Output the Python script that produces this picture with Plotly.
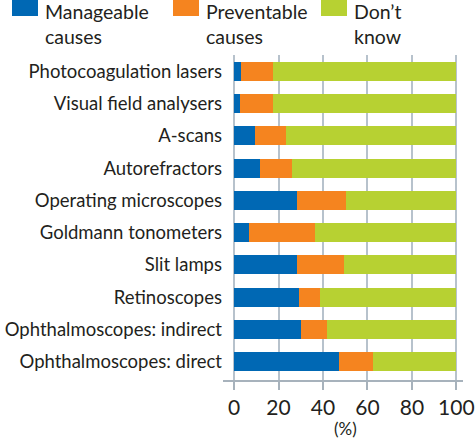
import plotly.graph_objects as go

categories = ["Ophthalmoscopes: direct", "Ophthalmoscopes: indirect", "Retinoscopes",
              "Slit lamps", "Goldmann tonometers", "Operating microscopes",
              "Autorefractors", "A-scans", "Visual field analysers", "Photocoagulation lasers"]
manageable = [47.4, 29.9, 29.4, 28.1, 6.9, 28.5, 11.5, 9.4, 2.7, 3.1]
preventable = [14.9, 11.8, 9.2, 21.2, 29.3, 22.0, 14.5, 13.8, 14.6, 14.2]
dont_know = [round(100 - m - p, 1) for m, p in zip(manageable, preventable)]

series_names = ["Manageable<br>causes", "Preventable<br>causes", "Don’t<br>know"]
colors = ["#0068b4", "#f5841f", "#b7d132"]
x_ticks = [0, 20, 40, 60, 80, 100]

W, H = 475, 438
L, R, T, B = 223, 12, 55, 58
FONT = "Lato"
TXT = "#231f20"

fig = go.Figure()
for name, vals, col in zip(series_names, [manageable, preventable, dont_know], colors):
    fig.add_trace(go.Bar(y=categories, x=vals, orientation="h", name=name,
                         marker=dict(color=col, line=dict(width=0)), showlegend=False))

# manual legend (paper coords)
pw, ph = W - L - R, H - T - B
def px(x):
    return (x - L) / pw
def py(y):
    return (H - B - y) / ph

leg_x = [12, 173, 321]
for lx, name, col in zip(leg_x, series_names, colors):
    fig.add_shape(type="rect", xref="paper", yref="paper",
                  x0=px(lx), x1=px(lx + 26), y0=py(16), y1=py(0),
                  fillcolor=col, line=dict(width=0))
    fig.add_annotation(xref="paper", yref="paper", x=px(lx + 31), y=py(-2),
                       xanchor="left", yanchor="top", align="left", showarrow=False,
                       text=name, font=dict(family=FONT, size=19.5, color=TXT))

fig.add_annotation(xref="paper", yref="paper", x=px(345), y=py(428),
                   xanchor="center", yanchor="middle", showarrow=False,
                   text="(%)", font=dict(family=FONT, size=17, color=TXT))

fig.update_layout(
    barmode="stack", bargap=0.41,
    width=W, height=H, margin=dict(l=L, r=R, t=T, b=B),
    paper_bgcolor="white", plot_bgcolor="white",
    font=dict(family=FONT, color=TXT),
    xaxis=dict(range=[-5, 103], tickvals=x_ticks, showgrid=True, gridcolor="#b7c2cc",
               gridwidth=1.5, zeroline=False, showline=True, linecolor="#a7b2bc", linewidth=1.5,
               ticks="outside", ticklen=8, tickcolor="#a7b2bc", tickwidth=1.5,
               ticklabeloverflow="allow",
               tickfont=dict(size=21, family=FONT, color=TXT), automargin=False),
    yaxis=dict(range=[-0.57, 9.51], showgrid=False, zeroline=False, showline=False,
               ticks="", tickfont=dict(size=18.5, family=FONT, color=TXT), automargin=False),
)

fig.write_html("out.html", config={"displayModeBar": False},
               post_script="document.body.style.margin='0';document.body.style.overflow='hidden';")
